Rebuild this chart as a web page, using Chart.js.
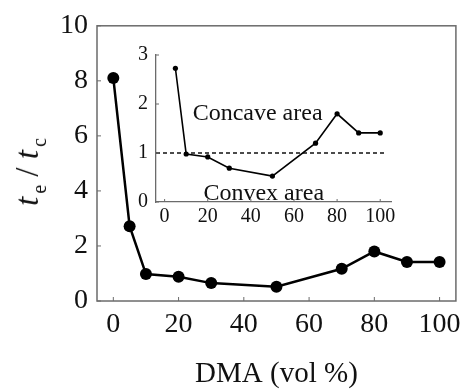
<!DOCTYPE html>
<html>
<head>
<meta charset="utf-8">
<script src="https://cdn.jsdelivr.net/npm/chart.js@4.4.0/dist/chart.umd.min.js"></script>
<style>
  html, body { margin: 0; padding: 0; background: #fff; }
  #wrap { position: relative; width: 468px; height: 389px; overflow: hidden; }
  #main-chart { position: absolute; left: 0; top: 0; width: 468px; height: 389px; }
  #inset-chart { position: absolute; left: 110px; top: 35px; width: 290px; height: 200px; }
  #y-title {
    position: absolute; left: 30px; top: 172px;
    transform: translate(-50%, -50%) rotate(-90deg);
    font-family: 'Liberation Serif', serif; font-size: 33px; line-height: 1;
    color: #111; white-space: nowrap;
  }
  #y-title sub { font-size: 20px; font-style: normal; vertical-align: -8px; margin-left: 3px; }
</style>
</head>
<body>
<div id="wrap">
  <canvas id="main-chart" width="468" height="389"></canvas>
  <canvas id="inset-chart" width="290" height="200"></canvas>
  <div id="y-title"><i>t</i><sub>e</sub> / <i>t</i><sub>c</sub></div>
</div>
<script>
// DMA content (vol %) and t_e / t_c ratio
const dmaVol = [0, 5, 10, 20, 30, 50, 70, 80, 90, 100];
const ratioMain = [8.1, 2.72, 0.98, 0.88, 0.65, 0.52, 1.17, 1.8, 1.42, 1.42];

// inset (zoomed 0-3)
const insetVol = [5, 10, 20, 30, 50, 70, 80, 90, 100];
const ratioInset = [2.73, 0.98, 0.92, 0.69, 0.53, 1.2, 1.8, 1.41, 1.41];

// boundary between concave / convex
const boundaryVol = [-4, 102];
const boundaryRatio = [1, 1];

const mainXTicks = [0, 20, 40, 60, 80, 100];
const mainYTicks = [0, 2, 4, 6, 8, 10];
const insetXTicks = [0, 20, 40, 60, 80, 100];
const insetYTicks = [0, 1, 2, 3];

const serif = "'Liberation Serif', 'Times New Roman', serif";
const axisGray = '#6b6b6b';

function toPoints(xs, ys) {
  return xs.map((x, i) => ({ x, y: ys[i] }));
}

function setTicks(list) {
  return (scale) => {
    scale.ticks = list.map((v) => ({ value: v }));
  };
}

// small inward tick marks on the bottom and left axes
const innerTicks = {
  id: 'innerTicks',
  afterDraw(chart, args, opts) {
    const { ctx, chartArea } = chart;
    const len = opts.length || 4;
    ctx.save();
    ctx.strokeStyle = axisGray;
    ctx.lineWidth = 1;
    chart.scales.x.ticks.forEach((t) => {
      const px = chart.scales.x.getPixelForValue(t.value);
      ctx.beginPath();
      ctx.moveTo(px, chartArea.bottom);
      ctx.lineTo(px, chartArea.bottom - len);
      ctx.stroke();
    });
    chart.scales.y.ticks.forEach((t) => {
      const py = chart.scales.y.getPixelForValue(t.value);
      ctx.beginPath();
      ctx.moveTo(chartArea.left, py);
      ctx.lineTo(chartArea.left + len, py);
      ctx.stroke();
    });
    ctx.restore();
  }
};

// closed frame around the main plot
const frameBox = {
  id: 'frameBox',
  beforeDatasetsDraw(chart) {
    const { ctx, chartArea } = chart;
    ctx.save();
    ctx.strokeStyle = axisGray;
    ctx.lineWidth = 1.5;
    ctx.strokeRect(chartArea.left, chartArea.top, chartArea.right - chartArea.left, chartArea.bottom - chartArea.top);
    ctx.restore();
  }
};

// region captions inside the inset
const areaCaptions = {
  id: 'areaCaptions',
  afterDatasetsDraw(chart) {
    const { ctx, scales } = chart;
    ctx.save();
    ctx.font = `24px ${serif}`;
    ctx.fillStyle = '#111';
    ctx.textBaseline = 'alphabetic';
    ctx.textAlign = 'left';
    ctx.fillText('Concave area', scales.x.getPixelForValue(13), scales.y.getPixelForValue(1.67));
    ctx.fillText('Convex area', scales.x.getPixelForValue(18), scales.y.getPixelForValue(0.04));
    ctx.restore();
  }
};

const mainChart = new Chart(document.getElementById('main-chart'), {
  type: 'scatter',
  data: {
    datasets: [{
      data: toPoints(dmaVol, ratioMain),
      showLine: true,
      borderColor: '#000',
      borderWidth: 2.5,
      backgroundColor: '#000',
      pointRadius: 6,
      pointBorderWidth: 0,
      tension: 0
    }]
  },
  options: {
    responsive: false,
    animation: false,
    layout: { padding: { top: 25, right: 9, bottom: 0, left: 0 } },
    plugins: {
      legend: { display: false },
      tooltip: { enabled: false },
      innerTicks: { length: 4 }
    },
    scales: {
      x: {
        type: 'linear',
        min: -5,
        max: 105,
        afterBuildTicks: setTicks(mainXTicks),
        afterFit(scale) { scale.height = 88; },
        grid: { display: false, drawTicks: false },
        border: { display: false },
        ticks: { color: '#111', padding: 7, font: { family: serif, size: 28 } },
        title: {
          display: true,
          text: 'DMA (vol %)',
          color: '#111',
          padding: 0,
          font: { family: serif, size: 29, lineHeight: 1 }
        }
      },
      y: {
        min: 0,
        max: 10,
        afterBuildTicks: setTicks(mainYTicks),
        afterFit(scale) { scale.width = 97; },
        grid: { display: false, drawTicks: false },
        border: { display: false },
        ticks: { color: '#111', padding: 9, font: { family: serif, size: 28 } }
      }
    }
  },
  plugins: [frameBox, innerTicks]
});

const insetChart = new Chart(document.getElementById('inset-chart'), {
  type: 'scatter',
  data: {
    datasets: [
      {
        data: toPoints(insetVol, ratioInset),
        showLine: true,
        borderColor: '#000',
        borderWidth: 1.6,
        backgroundColor: '#000',
        pointRadius: 2.6,
        pointBorderWidth: 0,
        tension: 0
      },
      {
        data: toPoints(boundaryVol, boundaryRatio),
        showLine: true,
        borderColor: '#111',
        borderWidth: 1.3,
        borderDash: [4, 3],
        pointRadius: 0
      }
    ]
  },
  options: {
    responsive: false,
    animation: false,
    layout: { padding: { top: 20, right: 9, bottom: 0, left: 0 } },
    plugins: {
      legend: { display: false },
      tooltip: { enabled: false },
      innerTicks: { length: 3 }
    },
    scales: {
      x: {
        type: 'linear',
        min: -4,
        max: 105,
        afterBuildTicks: setTicks(insetXTicks),
        afterFit(scale) { scale.height = 33; },
        grid: { display: false, drawTicks: false },
        border: { display: true, color: axisGray, width: 1.3 },
        ticks: { color: '#111', padding: 3, font: { family: serif, size: 20 } }
      },
      y: {
        min: 0,
        max: 3,
        afterBuildTicks: setTicks(insetYTicks),
        afterFit(scale) { scale.width = 46; },
        grid: { display: false, drawTicks: false },
        border: { display: true, color: axisGray, width: 1.3 },
        ticks: { color: '#111', padding: 8, font: { family: serif, size: 20 } }
      }
    }
  },
  plugins: [innerTicks, areaCaptions]
});
</script>
</body>
</html>
